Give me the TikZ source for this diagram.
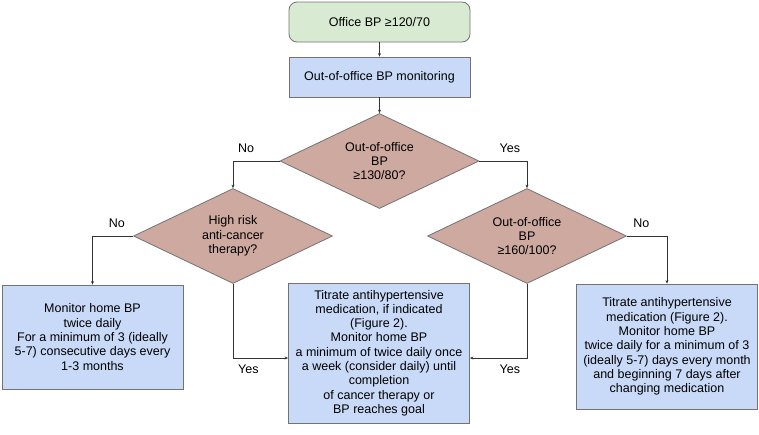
\documentclass[tikz,border=0pt]{standalone}
\usepackage{fontspec}
\setmainfont{Liberation Sans}
\usetikzlibrary{shapes.geometric,arrows.meta}

\definecolor{startgreen}{HTML}{D9EAD3}
\definecolor{boxblue}{HTML}{C9DAF8}
\definecolor{decisionred}{HTML}{CDA9A0}

\begin{document}
\begin{tikzpicture}[x=1pt,y=-1pt]
				\tikzstyle{every node}=[font=\fontsize{12.5}{14.3}\selectfont,align=center,inner sep=0pt]
				\tikzstyle{startbox}=[draw=black!55,line width=0.8pt,fill=startgreen,rectangle,rounded corners=8pt,minimum width=181pt,minimum height=40pt]
				\tikzstyle{stepbox}=[draw=black!55,line width=0.8pt,fill=boxblue,rectangle,minimum width=181pt]
				\tikzstyle{question}=[draw=black!55,line width=0.8pt,fill=decisionred,diamond,aspect=2.1,minimum width=199pt,minimum height=95pt]
				\tikzstyle{line}=[draw=black!80,line width=0.7pt,-{Stealth[length=3.5pt,width=3pt]}]
				\tikzstyle{answer}=[inner sep=2pt]
				
				\useasboundingbox (0,0) rectangle (759,434);
				
				\node[startbox] (office) at (379.5,22) {Office BP ≥120/70};
				\node[stepbox,minimum height=40pt] (monitor) at (379.5,77) {Out-of-office BP monitoring};
				
				\node[question] (q130) at (379.5,161) {Out-of-office\\BP\\≥130/80?};
				\node[question] (qrisk) at (233,236) {High risk\\anti-cancer\\therapy?};
				\node[question] (q160) at (527,236) {Out-of-office\\BP\\≥160/100?};
				
				\node[stepbox,minimum height=104pt] (homebp) at (92.5,337) {Monitor home BP\\twice daily\\For a minimum of 3 (ideally\\5-7) consecutive days every\\1-3 months};
				\node[stepbox,minimum height=140pt] (titrate) at (379,353) {Titrate antihypertensive\\medication, if indicated\\(Figure 2).\\Monitor home BP\\a minimum of twice daily once\\a week (consider daily) until\\completion\\of cancer therapy or\\BP reaches goal};
				\node[stepbox,minimum height=125pt] (titratemed) at (667,346.5) {Titrate antihypertensive\\medication (Figure 2).\\Monitor home BP\\twice daily for a minimum of 3\\(ideally 5-7) days every month\\and beginning 7 days after\\changing medication};
				
				\draw[line] (office) -- (monitor);
				\draw[line] (monitor) -- (q130);
				\draw[line] (q130.west) -| node[answer,above,pos=0.36,yshift=6pt] {No} (qrisk.north);
				\draw[line] (q130.east) -| node[answer,above,pos=0.32,yshift=6pt] {Yes} (q160.north);
				\draw[line] (qrisk.west) -| node[answer,above,pos=0.2,yshift=6pt] {No} (homebp.north);
				\draw[line] (q160.east) -| node[answer,above,pos=0.18,yshift=6pt] {No} (titratemed.north);
				\draw[line] (qrisk.south) |- node[answer,below,pos=0.64,yshift=-5pt] {Yes} ([yshift=-5pt]titrate.west);
				\draw[line] (q160.south) |- node[answer,below,pos=0.65,yshift=-5pt] {Yes} ([yshift=-5pt]titrate.east);
				
\end{tikzpicture}
\end{document}
